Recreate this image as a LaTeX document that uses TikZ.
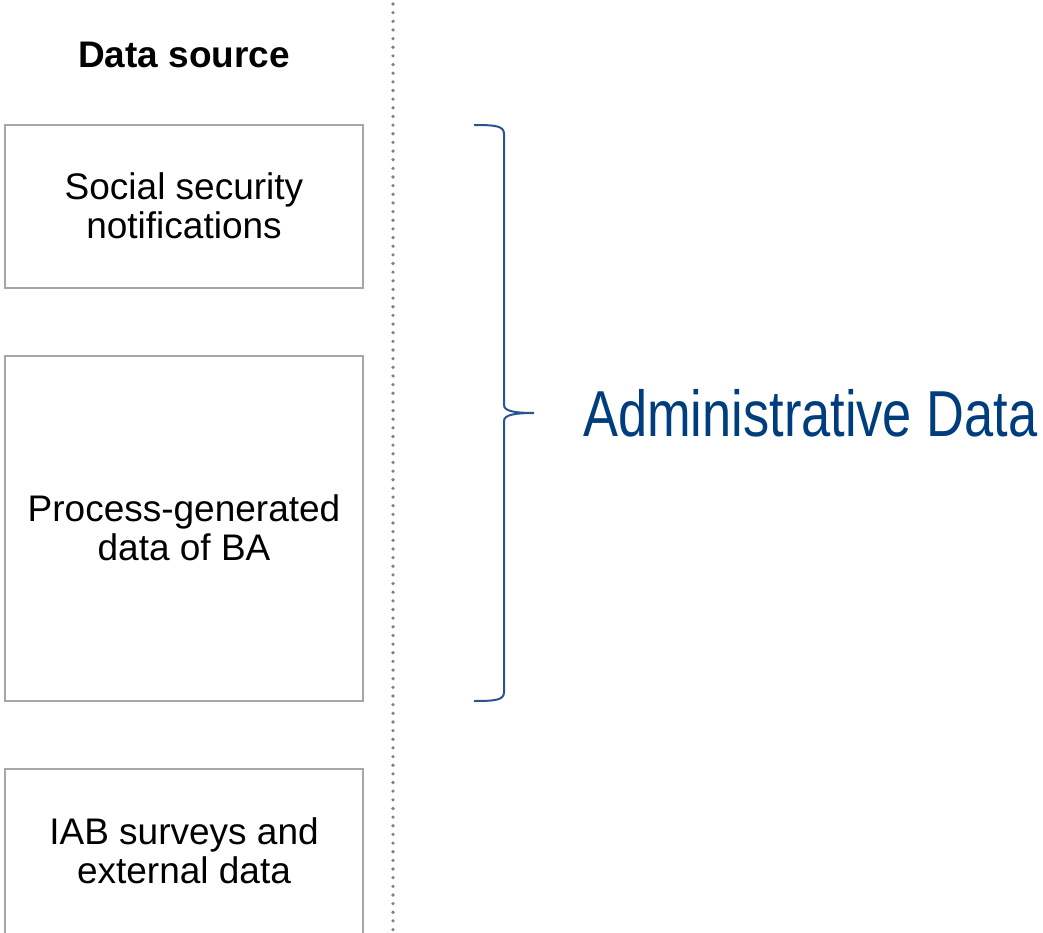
\documentclass[tikz,border=0pt]{standalone}
\usepackage{fontspec}
\setmainfont{Liberation Sans}
\definecolor{boxgray}{RGB}{166,166,166}
\definecolor{dotgray}{RGB}{128,128,128}
\definecolor{admblue}{RGB}{0,61,125}
\definecolor{braceblue}{RGB}{40,85,145}
\begin{document}
\begin{tikzpicture}[x=1pt,y=-1pt,
  boxtext/.style={align=center,font=\fontsize{37}{39}\selectfont,inner sep=0pt},
  frame/.style={draw=boxgray,line width=1.2pt}]
\useasboundingbox (0,0) rectangle (1043,933);
% dotted separator
\draw[dotgray,line width=3.6pt,line cap=round,dash pattern=on 0pt off 8.65pt] (393,4) -- (393,933);
% header
\node[font=\bfseries\fontsize{37}{39}\selectfont,inner sep=0pt] (hdr) at (184,55) {Data source};
% boxes
\draw[frame] (5,125) rectangle (363,288);
\node[boxtext] (b1) at (184,206) {Social security\\notifications};
\draw[frame] (5,356) rectangle (363,701);
\node[boxtext] (b2) at (184,528) {Process-generated\\data of BA};
\draw[frame] (5,933) |- (363,769) -- (363,933);
\node[boxtext] (b3) at (184,851) {IAB surveys and\\external data};
% brace
\draw[braceblue,line width=2pt]
  (474,125) .. controls (496,125) and (504,126) .. (504,134)
  -- (504,405) .. controls (504,411) and (514,413) .. (534,413)
  .. controls (514,413) and (504,415) .. (504,421)
  -- (504,692) .. controls (504,700) and (496,701) .. (474,701);
% label
\node[admblue,font=\fontsize{65}{70}\selectfont,inner sep=0pt,xscale=0.806,anchor=west] (adm) at (583,413) {Administrative Data};
\end{tikzpicture}
\end{document}
